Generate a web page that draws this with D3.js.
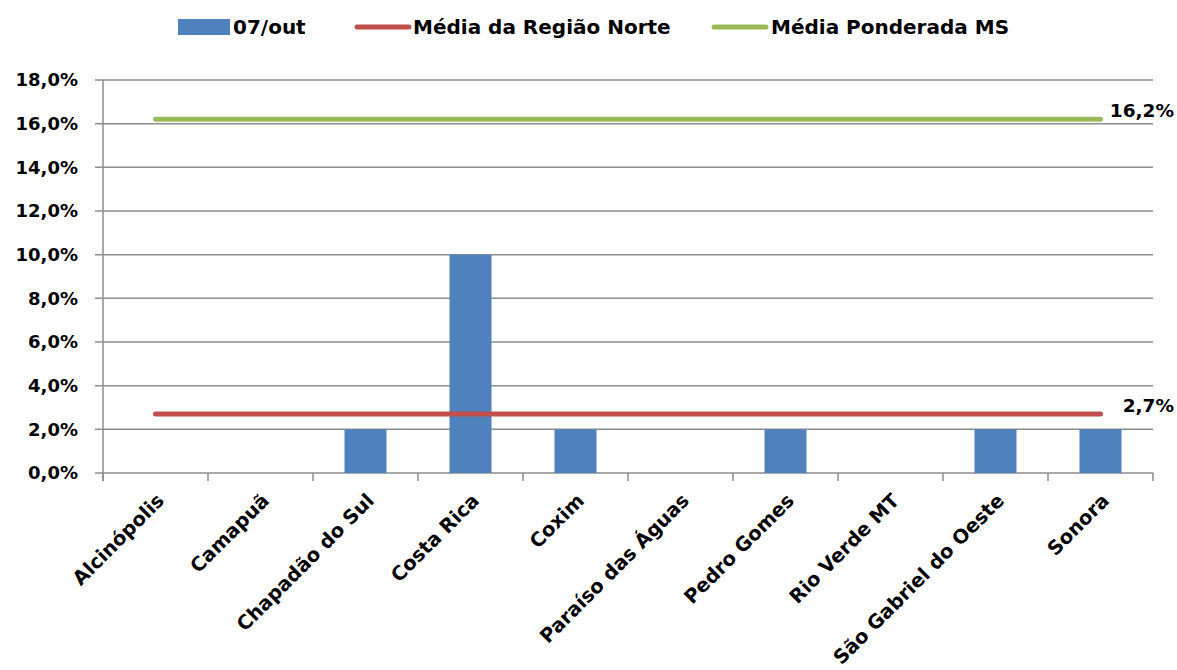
<!DOCTYPE html>
<html>
<head>
<meta charset="utf-8">
<script src="https://cdn.jsdelivr.net/npm/d3@7"></script>
<style>
  body { margin: 0; background: #fff; }
  text { font-family: "DejaVu Sans", sans-serif; font-weight: bold; fill: #000; }
</style>
</head>
<body>
<script>
// chart data
const categories = ["Alcinópolis", "Camapuã", "Chapadão do Sul", "Costa Rica", "Coxim",
    "Paraíso das Águas", "Pedro Gomes", "Rio Verde MT", "São Gabriel do Oeste", "Sonora"];
const values = [0, 0, 2, 10, 2, 0, 2, 0, 2, 2];
const mediaNorte = 2.7;
const mediaMS = 16.2;
const yTicks = [0, 2, 4, 6, 8, 10, 12, 14, 16, 18];
const legendLabels = ["07/out", "Média da Região Norte", "Média Ponderada MS"];

const W = 1177, H = 670;
const margin = {top: 80, right: 24, bottom: 197, left: 103};
const width = W - margin.left - margin.right,
    height = H - margin.top - margin.bottom;

const fmt = v => v.toFixed(1).replace(".", ",") + "%";

const svg = d3.select("body").append("svg")
    .attr("width", W).attr("height", H);

const g = svg.append("g")
    .attr("transform", "translate(" + margin.left + "," + margin.top + ")");

const x = d3.scaleBand().domain(categories).range([0, width]).paddingInner(0.6).paddingOuter(0.3);
const xBand = d3.scaleBand().domain(categories).range([0, width]);
const y = d3.scaleLinear().domain([0, 18]).range([height, 0]);

// gridlines
g.append("g").selectAll("line")
  .data(yTicks)
  .join("line")
    .attr("x1", -8).attr("x2", width)
    .attr("y1", d => y(d)).attr("y2", d => y(d))
    .attr("stroke", "#8c8c8c").attr("stroke-width", 1.5);

// y axis labels
g.append("g").selectAll("text")
  .data(yTicks)
  .join("text")
    .attr("x", -25).attr("y", d => y(d))
    .attr("dy", "0.36em")
    .attr("text-anchor", "end")
    .style("font-size", "18px")
    .text(fmt);

// y axis line
g.append("line")
    .attr("x1", 0).attr("x2", 0).attr("y1", 0).attr("y2", height + 8)
    .attr("stroke", "#8c8c8c").attr("stroke-width", 1.5);

// x ticks at band edges
const edges = categories.map(c => xBand(c)).concat([width]);
g.append("g").selectAll("line")
  .data(edges)
  .join("line")
    .attr("x1", d => d).attr("x2", d => d)
    .attr("y1", height).attr("y2", height + 8)
    .attr("stroke", "#8c8c8c").attr("stroke-width", 1.5);

// bars
g.append("g").selectAll("rect")
  .data(categories.map((c, i) => ({c, v: values[i]})).filter(d => d.v > 0))
  .join("rect")
    .attr("x", d => x(d.c))
    .attr("y", d => y(d.v))
    .attr("width", x.bandwidth())
    .attr("height", d => height - y(d.v))
    .attr("fill", "#4f81bd");

// average lines
const cx = c => xBand(c) + xBand.bandwidth() / 2;
const avgLine = d3.line().x(d => cx(d[0])).y(d => y(d[1]));
[[mediaNorte, "#c0504d"], [mediaMS, "#9bbb59"]].forEach(([v, col]) => {
  g.append("path")
    .attr("d", avgLine(categories.map(c => [c, v])))
    .attr("fill", "none").attr("stroke", col)
    .attr("stroke-width", 5).attr("stroke-linecap", "round");
  g.append("text")
    .attr("x", width + 21)
    .attr("y", y(v) - 9)
    .attr("dy", "0.36em")
    .attr("text-anchor", "end")
    .style("font-size", "18.5px")
    .text(fmt(v));
});

// category labels
g.append("g").selectAll("text")
  .data(categories)
  .join("text")
    .attr("transform", d => "translate(" + (cx(d) + 5) + "," + (height + 24) + ") rotate(-45)")
    .attr("text-anchor", "end")
    .attr("dy", "0.35em")
    .style("font-size", "19.5px")
    .text(d => d);

// legend
const lg = svg.append("g").attr("transform", "translate(0,27)");
lg.append("rect").attr("x", 178).attr("y", -8).attr("width", 52).attr("height", 16).attr("fill", "#4f81bd");
lg.append("line").attr("x1", 357).attr("x2", 409).attr("stroke", "#c0504d")
    .attr("stroke-width", 5).attr("stroke-linecap", "round");
lg.append("line").attr("x1", 714).attr("x2", 766).attr("stroke", "#9bbb59")
    .attr("stroke-width", 5).attr("stroke-linecap", "round");
lg.selectAll("text.leg")
  .data(legendLabels)
  .join("text")
    .attr("class", "leg")
    .attr("x", (d, i) => [233, 413, 771][i])
    .attr("dy", "0.36em")
    .style("font-size", "20px")
    .text(d => d);
</script>
</body>
</html>
